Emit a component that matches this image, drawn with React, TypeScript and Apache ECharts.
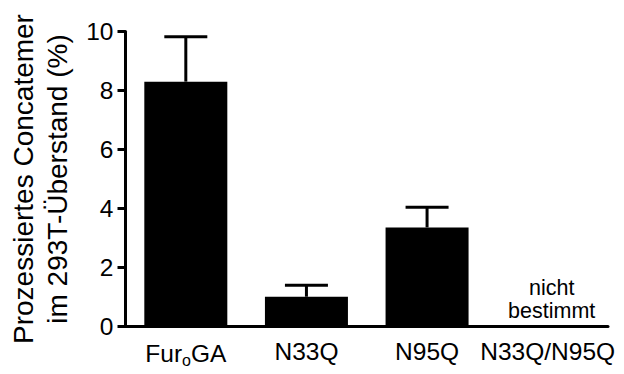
import React, { useEffect, useRef } from 'react';
import * as echarts from 'echarts';

const categories = ['FuroGA', 'N33Q', 'N95Q', 'N33Q/N95Q'];
const means = [8.3, 1.01, 3.36, 0];
const errors = [1.52, 0.39, 0.68, 0];
const notDeterminedLabel = 'nicht\nbestimmt';
const yTitle = 'Prozessiertes Concatemer\nim 293T-Überstand (%)';

const FONT = '"Liberation Sans", Arial, Helvetica, sans-serif';

export default function App() {
  const ref = useRef<HTMLDivElement>(null);
  useEffect(() => {
    const chart = echarts.init(ref.current!, null, { renderer: 'svg' });
    const barData = means.map((v, i) =>
      errors[i] === 0 && v === 0
        ? {
            value: 0,
            label: {
              show: true,
              position: 'top',
              formatter: notDeterminedLabel,
              fontSize: 21.5,
              lineHeight: 23,
              color: '#000',
              fontFamily: FONT,
              distance: 4,
              offset: [4, 0],
            },
          }
        : v
    );
    const errData = means
      .map((v, i) => [i, v, v + errors[i]])
      .filter((d, i) => errors[i] > 0);
    chart.setOption({
      animation: false,
      textStyle: { fontFamily: FONT },
      grid: { left: 125.5, right: 16, top: 31.5, bottom: 47.5, containLabel: false, outerBoundsMode: 'none' },
      xAxis: {
        type: 'category',
        data: categories,
        axisLine: { lineStyle: { color: '#000', width: 3 } },
        axisTick: { alignWithLabel: true, length: 6, lineStyle: { color: '#000', width: 3 } },
        axisLabel: {
          interval: 0,
          margin: 12,
          fontSize: 24.5,
          color: '#000',
          fontFamily: FONT,
          formatter: (v: string) => (v === 'FuroGA' ? '{n|Fur}{s|o}{n|GA}' : '{n|' + v + '}'),
          rich: {
            n: { fontSize: 24.5, color: '#000', fontFamily: FONT },
            s: { fontSize: 16, color: '#000', fontFamily: FONT, verticalAlign: 'bottom', padding: [14, 0, 0, 0] },
          },
        },
      },
      yAxis: {
        type: 'value',
        min: 0,
        max: 10,
        interval: 2,
        name: yTitle,
        nameLocation: 'middle',
        nameRotate: 90,
        nameGap: 51,
        nameTextStyle: { fontSize: 28, lineHeight: 34, color: '#000', fontFamily: FONT },
        axisLine: { show: true, lineStyle: { color: '#000', width: 3 } },
        axisTick: { show: true, length: 8, lineStyle: { color: '#000', width: 3 } },
        splitLine: { show: false },
        axisLabel: { fontSize: 24.5, color: '#000', margin: 12, fontFamily: FONT },
      },
      series: [
        {
          type: 'bar',
          data: barData,
          barWidth: 83,
          itemStyle: { color: '#000' },
          z: 3,
        },
        {
          type: 'custom',
          data: errData,
          encode: { x: 0, y: [1, 2] },
          z: 2,
          renderItem: (params: any, api: any) => {
            const x = api.value(0);
            const lo = api.coord([x, api.value(1)]);
            const hi = api.coord([x, api.value(2)]);
            const hw = 21.5;
            return {
              type: 'group',
              children: [
                { type: 'line', shape: { x1: lo[0], y1: lo[1], x2: hi[0], y2: hi[1] }, style: { stroke: '#000', lineWidth: 3 } },
                { type: 'line', shape: { x1: hi[0] - hw, y1: hi[1], x2: hi[0] + hw, y2: hi[1] }, style: { stroke: '#000', lineWidth: 3 } },
              ],
            };
          },
        },
      ],
    });
    return () => chart.dispose();
  }, []);
  return <div ref={ref} style={{ position: 'fixed', left: 0, top: 0, width: 624, height: 374, background: '#fff' }} />;
}
